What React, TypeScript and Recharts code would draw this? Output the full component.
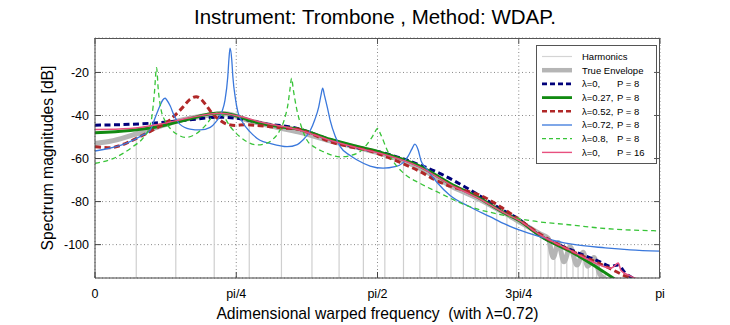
import { ComposedChart, Line, XAxis, YAxis, CartesianGrid, Legend, Label } from "recharts";

// x is the warped frequency in units of pi (0..1), y is magnitude in dB
const xTicks = [0, 0.25, 0.5, 0.75, 1];
const xTickLabels = ["0", "pi/4", "pi/2", "3pi/4", "pi"];
const yTicks = [-100, -80, -60, -40, -20];
const Y_MIN = -115.5;
const Y_MAX = -4;

const harmonicX = [
  0.073, 0.143, 0.211, 0.273, 0.33, 0.384, 0.432, 0.475, 0.513, 0.546, 0.575, 0.605, 0.63, 0.652,
  0.673, 0.693, 0.711, 0.729, 0.746, 0.761, 0.775, 0.789, 0.802, 0.814, 0.825, 0.835, 0.846, 0.855,
  0.864, 0.873, 0.881, 0.888, 0.896, 0.903, 0.91,
];
const harmonicDb = [
  -49, -43, -40, -42.5, -46, -49.5, -52.5, -55.5, -58.5, -62, -64.5, -68.5, -72.5, -75.5,
  -78.5, -81, -83.5, -86, -89, -91.5, -93.5, -95.5, -97, -104, -100, -107, -102, -109,
  -104, -110, -107, -112, -114, -113, -115,
];

const trueEnvelope: [number, number][] = [
  [0, -53], [0.027, -52], [0.062, -49.5], [0.115, -45], [0.15, -42.3], [0.186, -40.5], [0.23, -39.2],
  [0.274, -42.5], [0.327, -45.8], [0.363, -47.8], [0.416, -51.8], [0.474, -55.5], [0.504, -57.5],
  [0.575, -64.5], [0.628, -72.5], [0.681, -79], [0.726, -85.5], [0.752, -89.5], [0.788, -95],
  [0.802, -97], [0.811, -106], [0.82, -99], [0.83, -108], [0.841, -101], [0.853, -109.5],
  [0.864, -103.5], [0.872, -110], [0.883, -106], [0.894, -114], [0.912, -117],
];

const lam0p8: [number, number][] = [
  [0, -44.5], [0.062, -44.1], [0.115, -43.3], [0.168, -42], [0.221, -40.8], [0.257, -41.5],
  [0.297, -43.6], [0.358, -46], [0.416, -51.2], [0.474, -55.5], [0.504, -57], [0.575, -63],
  [0.611, -67], [0.664, -74.6], [0.722, -84], [0.752, -88.5], [0.784, -95.2], [0.844, -102.6],
  [0.894, -108], [0.912, -110], [0.926, -109.5], [0.938, -113], [0.965, -117],
];

const lam027p8: [number, number][] = [
  [0, -48], [0.062, -47], [0.115, -45], [0.168, -41.5], [0.204, -39.2], [0.225, -38.8], [0.248, -40],
  [0.274, -42.3], [0.327, -45.2], [0.363, -46.5], [0.416, -51], [0.474, -55], [0.504, -57],
  [0.575, -63.5], [0.628, -71.5], [0.681, -78.5], [0.726, -85.5], [0.752, -89], [0.788, -96],
  [0.844, -103.5], [0.894, -111.5], [0.92, -116],
];

const lam052p8: [number, number][] = [
  [0, -54.5], [0.027, -55], [0.044, -54], [0.067, -51.4], [0.097, -47.5], [0.115, -45], [0.133, -42],
  [0.147, -38.5], [0.156, -36], [0.168, -32.5], [0.179, -31.3], [0.188, -32.5], [0.196, -35],
  [0.209, -39.5], [0.221, -42.2], [0.235, -44.2], [0.25, -44.6], [0.264, -44.3], [0.287, -44.6],
  [0.31, -45.2], [0.333, -45.8], [0.358, -46.3], [0.381, -48.3], [0.416, -52.2], [0.451, -54.5],
  [0.487, -56.5], [0.504, -58], [0.522, -59.8], [0.54, -61.8], [0.575, -66], [0.605, -70.3],
  [0.628, -72.8], [0.651, -74.6], [0.681, -77], [0.72, -82.8], [0.752, -88.6], [0.788, -95.2],
  [0.844, -103], [0.903, -110], [0.947, -115.5], [0.965, -117],
];

const lam072p8: [number, number][] = [
  [0, -56.5], [0.055, -53], [0.085, -49], [0.097, -47], [0.108, -40], [0.115, -35.5], [0.12, -32.8],
  [0.124, -32], [0.127, -32.8], [0.133, -35.5], [0.14, -40], [0.15, -44], [0.168, -46.3],
  [0.186, -46.7], [0.204, -45.5], [0.214, -43], [0.225, -38], [0.23, -33], [0.235, -22], [0.237, -14],
  [0.239, -8.7], [0.242, -14], [0.244, -22], [0.249, -33], [0.253, -38.5], [0.262, -43.5],
  [0.274, -47.5], [0.292, -51.5], [0.31, -53], [0.34, -54.5], [0.358, -53.5], [0.368, -51.4],
  [0.381, -47], [0.389, -42], [0.396, -36], [0.4, -30.5], [0.403, -27.3], [0.406, -30.5], [0.411, -36],
  [0.416, -42], [0.425, -49.5], [0.434, -54.5], [0.451, -58.5], [0.464, -60.7], [0.487, -63.5],
  [0.51, -64.5], [0.531, -63.8], [0.545, -62], [0.554, -59], [0.561, -55.5], [0.566, -53.3],
  [0.572, -56], [0.577, -61], [0.586, -64.5], [0.605, -71], [0.628, -77], [0.664, -82.5],
  [0.699, -87], [0.726, -90.5], [0.752, -93.3], [0.784, -96], [0.844, -99.8], [0.903, -101.5],
  [0.947, -102.4], [1, -103],
];

const lam08p8: [number, number][] = [
  [0, -62.2], [0.032, -60], [0.067, -54.5], [0.085, -50.5], [0.094, -47], [0.101, -40], [0.105, -30],
  [0.109, -17.8], [0.112, -28], [0.117, -37.4], [0.124, -42.5], [0.133, -46], [0.147, -49],
  [0.161, -50.2], [0.179, -48.5], [0.196, -44.5], [0.211, -39.5], [0.219, -38.3], [0.228, -40.5],
  [0.239, -45], [0.257, -50], [0.269, -52.2], [0.287, -53.7], [0.303, -53], [0.315, -51],
  [0.327, -47], [0.335, -42], [0.342, -34], [0.345, -28], [0.348, -22.7], [0.351, -28], [0.357, -37],
  [0.365, -45], [0.375, -51.4], [0.389, -54.8], [0.404, -56.8], [0.434, -59.2], [0.464, -57.6],
  [0.478, -54.5], [0.487, -51.4], [0.494, -48.5], [0.5, -46], [0.506, -49], [0.517, -56],
  [0.527, -61], [0.545, -66.5], [0.575, -71.5], [0.605, -75.4], [0.664, -82.4], [0.722, -86.3],
  [0.765, -88.6], [0.844, -90.9], [0.903, -92.5], [0.947, -93.2], [1, -93.6],
];

const lam0p16: [number, number][] = [
  [0, -46.5], [0.062, -46], [0.115, -44], [0.168, -41], [0.221, -39], [0.257, -40.5], [0.297, -43.3],
  [0.358, -46.5], [0.416, -51.5], [0.474, -55.7], [0.504, -57.5], [0.575, -64], [0.628, -72],
  [0.681, -78.8], [0.726, -85.5], [0.752, -89], [0.788, -95.5], [0.844, -103], [0.894, -109.5],
  [0.912, -111], [0.919, -110], [0.926, -108.5], [0.931, -112], [0.947, -114.5], [0.973, -117],
];

const FLOOR = -130;
const FONT = '"Liberation Sans", Arial, Helvetica, sans-serif';

// plot frame (chart margins + axis sizes)
const PLOT = { left: 95, top: 38, width: 565, height: 240 };

const pts = (arr: [number, number][]) => arr.map(([x, y]) => ({ x, y }));
const harmonicPts = harmonicX.flatMap((x, i) => [
  { x, y: FLOOR },
  { x, y: harmonicDb[i] },
  { x, y: null },
]);

const legendItems = [
  { name: "Harmonics", order: "", color: "#d4d4d4", width: 1.2, dash: undefined },
  { name: "True Envelope", order: "", color: "#b5b5b5", width: 4.5, dash: undefined },
  { name: "λ=0,", order: "P = 8", color: "#00007a", width: 2.6, dash: "5 3" },
  { name: "λ=0.27,", order: "P = 8", color: "#118a11", width: 2.8, dash: undefined },
  { name: "λ=0.52,", order: "P = 8", color: "#b02828", width: 2.6, dash: "5 3" },
  { name: "λ=0.72,", order: "P = 8", color: "#3a78dc", width: 1.3, dash: undefined },
  { name: "λ=0.8,", order: "P = 8", color: "#38c438", width: 1.3, dash: "4 3" },
  { name: "λ=0,", order: "P = 16", color: "#e8507f", width: 1.4, dash: undefined },
];

function LegendBox() {
  return (
    <svg width={121} height={119} style={{ display: "block" }}>
      <rect x={0.5} y={0.5} width={120} height={118} fill="#fff" stroke="#555" />
      {legendItems.map((it, i) => {
        const cy = 11.5 + i * 13.7;
        return (
          <g key={i}>
            <line x1={6} x2={36} y1={cy} y2={cy} stroke={it.color} strokeWidth={it.width} strokeDasharray={it.dash} />
            <text x={46} y={cy + 3.3} fontSize={9.5} fontFamily={FONT} fill="#000">
              {it.name}
            </text>
            {it.order && (
              <text x={81} y={cy + 3.3} fontSize={9.5} fontFamily={FONT} fill="#000">
                {it.order}
              </text>
            )}
          </g>
        );
      })}
    </svg>
  );
}

// top and right sides of the axes box, with inward tick marks
function Frame() {
  const r = PLOT.left + PLOT.width;
  const t = PLOT.top;
  return (
    <svg width={730} height={325} style={{ position: "absolute", left: 0, top: 0, pointerEvents: "none" }}>
      <path d={`M${PLOT.left} ${t + 0.5}H${r - 0.5}V${t + PLOT.height}`} fill="none" stroke="#555" strokeWidth={1} />
      {xTicks.map((v) => {
        const x = PLOT.left + v * PLOT.width;
        return <line key={`x${v}`} x1={x} x2={x} y1={t} y2={t + 6} stroke="#555" />;
      })}
      {yTicks.map((v) => {
        const y = t + ((Y_MAX - v) / (Y_MAX - Y_MIN)) * PLOT.height;
        return <line key={`y${v}`} x1={r} x2={r - 6} y1={y} y2={y} stroke="#555" />;
      })}
    </svg>
  );
}

const common = { dataKey: "y", dot: false, activeDot: false, isAnimationActive: false, legendType: "none" as const };

export default function App() {
  return (
    <div style={{ position: "absolute", left: 0, top: 0, width: 730, height: 325, background: "#fff", fontFamily: FONT }}>
      <ComposedChart width={730} height={325} margin={{ top: PLOT.top, right: 730 - PLOT.left - PLOT.width, bottom: 0, left: 0 }}>
        <CartesianGrid stroke="#888" strokeDasharray="1 2.5" />
        <XAxis
          type="number"
          dataKey="x"
          domain={[0, 1]}
          ticks={xTicks}
          interval={0}
          allowDataOverflow
          height={325 - PLOT.top - PLOT.height}
          tickFormatter={(v: number) => xTickLabels[xTicks.indexOf(v)] ?? ""}
          tick={{ fill: "#000", fontSize: 12.5, fontFamily: FONT }}
          tickSize={-6}
          tickMargin={17}
          stroke="#444"
        >
          <Label
            value={"Adimensional warped frequency\u00a0 (with λ=0.72)"}
            position="insideBottom"
            offset={6.5}
            fill="#000"
            fontSize={15.7}
            fontFamily={FONT}
          />
        </XAxis>
        <YAxis
          type="number"
          domain={[Y_MIN, Y_MAX]}
          ticks={yTicks}
          interval={0}
          allowDataOverflow
          width={PLOT.left}
          tick={{ fill: "#000", fontSize: 12.5, fontFamily: FONT }}
          tickSize={-6}
          tickMargin={12}
          stroke="#444"
        >
          <Label
            content={({ viewBox }: any) => {
              const cx = 53;
              const cy = viewBox.y + viewBox.height / 2;
              return (
                <text x={cx} y={cy} transform={`rotate(-90 ${cx} ${cy})`} textAnchor="middle" fontSize={15.7} fontFamily={FONT} fill="#000">
                  Spectrum magnitudes [dB]
                </text>
              );
            }}
          />
        </YAxis>

        <Line {...common} data={harmonicPts} type="linear" stroke="#cfcfcf" strokeWidth={1.2} connectNulls={false} />
        <Line {...common} data={pts(trueEnvelope)} type="monotone" stroke="#b5b5b5" strokeWidth={5} />
        <Line {...common} data={pts(lam0p8)} type="monotone" stroke="#00007a" strokeWidth={3} strokeDasharray="6 3.5" />
        <Line {...common} data={pts(lam027p8)} type="monotone" stroke="#118a11" strokeWidth={3} />
        <Line {...common} data={pts(lam052p8)} type="monotone" stroke="#b02828" strokeWidth={3} strokeDasharray="6 3.5" />
        <Line {...common} data={pts(lam072p8)} type="monotone" stroke="#3a78dc" strokeWidth={1.3} />
        <Line {...common} data={pts(lam08p8)} type="monotone" stroke="#38c438" strokeWidth={1.3} strokeDasharray="5 3.5" />
        <Line {...common} data={pts(lam0p16)} type="monotone" stroke="#e8507f" strokeWidth={1.5} />

        <Legend
          content={() => <LegendBox />}
          layout="vertical"
          verticalAlign="middle"
          align="center"
          wrapperStyle={{ left: 536, top: 45, width: 121, height: 119 }}
        />
      </ComposedChart>
      <Frame />
      <svg width={730} height={34} style={{ position: "absolute", left: 0, top: 0 }}>
        <text x={375} y={24} textAnchor="middle" fontSize={20.5} fontFamily={FONT} fill="#000">
          Instrument: Trombone , Method: WDAP.
        </text>
      </svg>
    </div>
  );
}
